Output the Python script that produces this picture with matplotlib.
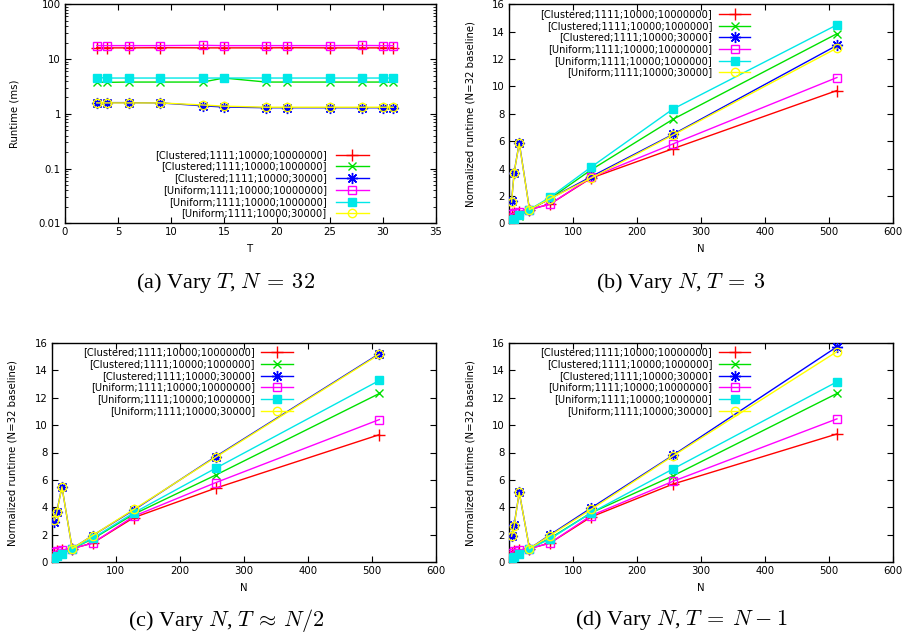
import matplotlib
matplotlib.use("Agg")
import matplotlib.pyplot as plt
from matplotlib.ticker import NullFormatter, LogLocator

plt.rcParams['font.family'] = ['DejaVu Sans']
plt.rcParams['mathtext.fontset'] = 'cm'

series_labels = ["[Clustered;1111;10000;10000000]",
                 "[Clustered;1111;10000;1000000]",
                 "[Clustered;1111;10000;30000]",
                 "[Uniform;1111;10000;10000000]",
                 "[Uniform;1111;10000;1000000]",
                 "[Uniform;1111;10000;30000]"]

# (a) Vary T, N = 32
T_vals = [3, 4, 6, 9, 13, 15, 19, 21, 25, 28, 30, 31]
a_red = [16.1, 16.0, 16.0, 16.1, 16.0, 16.0, 16.0, 16.1, 16.0, 16.0, 16.0, 16.0]
a_green = [3.8, 3.75, 3.8, 3.8, 3.8, 4.5, 3.8, 3.8, 3.8, 3.8, 3.8, 3.75]
a_blue = [1.6, 1.6, 1.6, 1.58, 1.4, 1.33, 1.29, 1.29, 1.29, 1.29, 1.29, 1.29]
a_magenta = [17.6, 17.6, 17.6, 17.6, 17.8, 17.6, 17.6, 17.6, 17.6, 17.7, 17.6, 17.6]
a_cyan = [4.6, 4.5, 4.5, 4.5, 4.5, 4.5, 4.5, 4.5, 4.5, 4.5, 4.5, 4.5]
a_yellow = [1.58, 1.58, 1.58, 1.58, 1.45, 1.38, 1.32, 1.32, 1.32, 1.32, 1.32, 1.32]

# (b)-(d) Vary N
N_vals = [4, 8, 16, 32, 64, 128, 256, 512]
b_red = [0.65, 0.75, 0.85, 1.0, 1.4, 3.3, 5.45, 9.7]
b_green = [0.35, 0.4, 0.55, 1.0, 1.8, 3.9, 7.6, 13.85]
b_blue = [1.6, 3.7, 5.9, 1.0, 1.8, 3.4, 6.5, 13.0]
b_magenta = [0.65, 0.75, 0.85, 1.0, 1.4, 3.35, 5.8, 10.65]
b_cyan = [0.25, 0.3, 0.6, 1.0, 1.9, 4.1, 8.35, 14.5]
b_yellow = [1.55, 3.7, 5.85, 1.0, 1.8, 3.3, 6.45, 12.8]

c_red = [0.7, 0.8, 0.9, 1.0, 1.4, 3.25, 5.4, 9.3]
c_green = [0.35, 0.45, 0.6, 1.0, 1.7, 3.5, 6.35, 12.3]
c_blue = [2.9, 3.7, 5.5, 1.0, 1.95, 3.8, 7.7, 15.2]
c_magenta = [0.75, 0.85, 0.9, 1.0, 1.4, 3.35, 5.8, 10.4]
c_cyan = [0.3, 0.45, 0.6, 1.0, 1.75, 3.6, 6.85, 13.25]
c_yellow = [3.05, 3.65, 5.5, 1.0, 1.95, 3.85, 7.65, 15.15]

d_red = [0.7, 0.8, 0.9, 1.0, 1.4, 3.3, 5.7, 9.35]
d_green = [0.35, 0.45, 0.6, 1.0, 1.75, 3.6, 6.3, 12.3]
d_blue = [1.95, 2.7, 5.1, 1.0, 2.0, 3.95, 7.8, 15.7]
d_magenta = [0.7, 0.85, 0.9, 1.0, 1.4, 3.4, 5.9, 10.45]
d_cyan = [0.3, 0.4, 0.6, 1.0, 1.7, 3.6, 6.8, 13.15]
d_yellow = [1.9, 2.65, 5.1, 1.0, 1.95, 3.85, 7.75, 15.35]

captions = [r"(a) Vary $T$, $N\:=\:32$", r"(b) Vary $N$, $T\:=\:3$",
            r"(c) Vary $N$, $T\:\approx\:N/2$", r"(d) Vary $N$, $T\:=\:N\:-\:1$"]

colors = ['#ff0000', '#00e000', '#0000ff', '#ff00ff', '#00e8e8', '#ffff00']
styles = [dict(marker='+', ms=8, mew=1.0, mfc='none'),
          dict(marker='x', ms=6, mew=1.0, mfc='none'),
          dict(marker=(8, 2, 0), ms=8, mew=1.0, mfc='none'),
          dict(marker='s', ms=5.5, mew=1.0, mfc='none'),
          dict(marker='s', ms=6, mew=1.0),
          dict(marker='o', ms=6, mew=1.0, mfc='none')]

W, H = 904, 642
fig = plt.figure(figsize=(W / 100, H / 100), dpi=100)

def add_ax(l, r, t, b):
    return fig.add_axes([l / W, 1 - b / H, (r - l) / W, (b - t) / H])

axa = add_ax(65, 435.7, 4.3, 223.3)
axb = add_ax(509, 893.3, 4.3, 223.3)
axc = add_ax(51.7, 435.7, 342.7, 562.3)
axd = add_ax(509, 893.3, 342.7, 562.3)

def draw(ax, x, ys, leg_x, leg_rows):
    for i, y in enumerate(ys):
        ax.plot(x, y, color=colors[i], lw=1.0, **styles[i], zorder=3 + i)
    # manual gnuplot-style legend
    tx, lx0, lx1 = leg_x
    for i, yy in enumerate(leg_rows):
        ax.text(tx, yy, series_labels[i], transform=ax.transAxes, ha='right',
                va='center', fontsize=7.1)
        ax.plot([lx0, lx1], [yy, yy], color=colors[i], lw=1.0,
                transform=ax.transAxes, clip_on=False, zorder=10)
        ax.plot([(lx0 + lx1) / 2], [yy], color=colors[i], lw=0,
                transform=ax.transAxes, clip_on=False, zorder=10, **styles[i])
    ax.tick_params(direction='in', top=True, right=True, labelsize=7.3,
                   length=4, width=0.8, pad=3)
    for s in ax.spines.values():
        s.set_linewidth(1.0)

# (a)
draw(axa, T_vals, [a_red, a_green, a_blue, a_magenta, a_cyan, a_yellow],
     (0.706, 0.7305, 0.8203), [0.312, 0.262, 0.205, 0.152, 0.099, 0.046])
axa.set_yscale('log')
axa.set_ylim(0.01, 100)
axa.set_xlim(0, 35)
axa.set_xticks([0, 5, 10, 15, 20, 25, 30, 35])
axa.set_yticks([0.01, 0.1, 1, 10, 100])
axa.set_yticklabels(['0.01', '0.1', '1', '10', '100'])
axa.yaxis.set_minor_locator(LogLocator(base=10, subs=range(2, 10)))
axa.yaxis.set_minor_formatter(NullFormatter())
axa.tick_params(which='minor', direction='in', right=True, length=2, width=0.6)
axa.set_xlabel('T', fontsize=7.3, labelpad=5)
axa.set_ylabel('Runtime (ms)', fontsize=7.3, labelpad=14)

row_bd = [0.956, 0.902, 0.849, 0.796, 0.742, 0.689]
for ax, data in [(axb, [b_red, b_green, b_blue, b_magenta, b_cyan, b_yellow]),
                 (axc, [c_red, c_green, c_blue, c_magenta, c_cyan, c_yellow]),
                 (axd, [d_red, d_green, d_blue, d_magenta, d_cyan, d_yellow])]:
    draw(ax, N_vals, data, (0.529, 0.546, 0.628), row_bd)
    ax.set_xlim(0, 600)
    ax.set_ylim(0, 16)
    ax.set_xticks([0, 100, 200, 300, 400, 500, 600])
    ax.set_xticklabels(['', '100', '200', '300', '400', '500', '600'])
    ax.set_yticks([0, 2, 4, 6, 8, 10, 12, 14, 16])
    ax.set_xlabel('N', fontsize=7.3, labelpad=5)
    ax.set_ylabel('Normalized runtime (N=32 baseline)', fontsize=7.3, labelpad=12)

cap_pos = [(226, 283), (681, 283), (226, 620), (681, 620)]
for (cx, cy), cap in zip(cap_pos, captions):
    fig.text(cx / W, 1 - cy / H, cap, ha='center', va='center', fontsize=16,
             family='Liberation Serif')

fig.savefig('out.png', dpi=100)
